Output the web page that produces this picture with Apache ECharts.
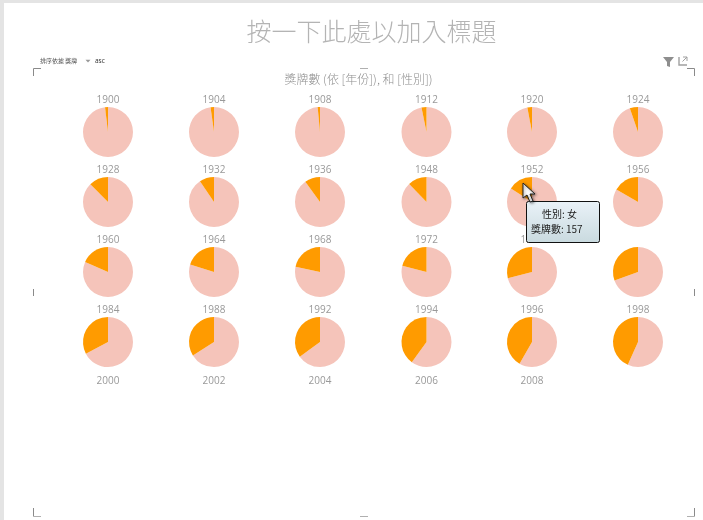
<!DOCTYPE html>
<html>
<head>
<meta charset="utf-8">
<style>html,body{margin:0;padding:0;background:#fff}#c{width:703px;height:520px}</style>
<script src="https://cdn.jsdelivr.net/npm/echarts@6/dist/echarts.min.js"></script>
</head>
<body>
<div id="c"></div>
<script>
var years = ['1900','1904','1908','1912','1920','1924','1928','1932','1936','1948','1952','1956','1960','1964','1968','1972','1976','1980','1984','1988','1992','1994','1996','1998'];
var extraYears = ['2000','2002','2004','2006','2008'];
var unlabelledYears = ['1980'];
var femaleShare = [1.9,2.2,1.5,3.2,3.0,5.3,12.5,9.5,10.0,12.2,16.0,16.6,18.4,20.2,21.7,21.0,29.0,30.5,32.7,34.0,35.0,40.0,41.7,43.3];
var maleShare = [98.1,97.8,98.5,96.8,97.0,94.7,87.5,90.5,90.0,87.8,84.0,83.4,81.6,79.8,78.3,79.0,71.0,69.5,67.3,66.0,65.0,60.0,58.3,56.7];
var genderNames = ['男','女'];
var colX = [108,214,320,426.5,532,638];
var rowY = [132,202,272,342];
var labelY = [99,169,239,309,380];

var chart = echarts.init(document.getElementById('c'), null, {renderer:'canvas'});
var FONT = '"Open Sans","Noto Sans CJK TC",sans-serif';
var CJK = '"Noto Sans CJK TC","Open Sans",sans-serif';

var titles = [
  {text:'按一下此處以加入標題', left:371.5, top:19, padding:0, textAlign:'center', textStyle:{fontFamily:CJK, fontSize:25, fontWeight:300, color:'#b4b4b4'}},
  {text:'獎牌數 (依 [年份]), 和 [性別])', left:358.5, top:73, padding:0, textAlign:'center', textStyle:{fontFamily:CJK, fontSize:12, fontWeight:300, color:'#8f8f8f'}}
];
function yearTitle(t, col, row){
  if (unlabelledYears.indexOf(t) >= 0) return;
  titles.push({text:t, left:colX[col], top:labelY[row]-4, padding:0, textAlign:'center',
    textStyle:{fontFamily:FONT, fontSize:10, fontWeight:'normal', color:'#999999'}});
}
years.forEach(function(y,i){ yearTitle(y, i%6, Math.floor(i/6)); });
extraYears.forEach(function(y,i){ yearTitle(y, i, 4); });

var series = years.map(function(y,i){
  return {
    type:'pie', name:y, radius:[0,25], center:[colX[i%6], rowY[Math.floor(i/6)]],
    startAngle:90, clockwise:true, silent:true, animation:false,
    label:{show:false}, labelLine:{show:false},
    data:[
      {name:genderNames[0], value:maleShare[i], itemStyle:{color:'#f5c4ba'}},
      {name:genderNames[1], value:femaleShare[i], itemStyle:{color:'#ff9b00'}}
    ]
  };
});

function seg(x1,y1,x2,y2,c){
  return {type:'line', shape:{x1:x1,y1:y1,x2:x2,y2:y2}, style:{stroke:c||'#8a8a8a', lineWidth:1}, z:50};
}
var g = [
  {type:'rect', shape:{x:0,y:0,width:4,height:520}, style:{fill:'#e4e4e4'}, z:40},
  {type:'rect', shape:{x:0,y:0,width:703,height:3}, style:{fill:'#e4e4e4'}, z:40},
  // selection frame
  seg(33.5,68.5,41,68.5), seg(33.5,68.5,33.5,76),
  seg(687,68.5,694.5,68.5), seg(694.5,68.5,694.5,76),
  seg(33.5,508,33.5,516.5), seg(33.5,516.5,41,516.5,'#b0b0b0'),
  seg(694.5,508,694.5,516.5), seg(687,516.5,694.5,516.5,'#b0b0b0'),
  seg(360,68.5,368,68.5,'#b0b0b0'), seg(360,516.5,368,516.5,'#b0b0b0'),
  seg(33.5,289,33.5,296), seg(694.5,289,694.5,296),
  // sort slicer
  {type:'text', style:{x:40,y:61,text:'排序依據 獎牌',font:'6px '+CJK,fill:'#555',textVerticalAlign:'middle'}, z:50},
  {type:'polygon', shape:{points:[[85.5,59.8],[90.5,59.8],[88,62.5]]}, style:{fill:'#999'}, z:50},
  {type:'text', style:{x:95,y:61,text:'asc',font:'6.5px '+FONT,fill:'#333',textVerticalAlign:'middle'}, z:50},
  // filter icon
  {type:'polygon', shape:{points:[[663,57],[674,57],[670,62],[670,67],[667,66],[667,62]]}, style:{fill:'#8e8e8e'}, z:50},
  // focus icon
  {type:'polyline', shape:{points:[[679,57],[679,65],[687,65]]}, style:{stroke:'#a0a0a0',fill:null,lineWidth:1.4}, z:50},
  {type:'polyline', shape:{points:[[682.5,61.5],[687,57]]}, style:{stroke:'#a0a0a0',fill:null,lineWidth:1}, z:50},
  {type:'polyline', shape:{points:[[683,57],[687,57],[687,61]]}, style:{stroke:'#a0a0a0',fill:null,lineWidth:1}, z:50},
  // tooltip
  {type:'rect', shape:{x:526.5,y:201.5,width:73,height:41,r:2},
    style:{fill:new echarts.graphic.LinearGradient(0,0,0,1,[{offset:0,color:'#eaf2f8'},{offset:1,color:'#c9dadf'}]),stroke:'#111',lineWidth:1}, z:60},
  {type:'text', style:{x:542,y:214,text:'性別: 女',font:'10px '+CJK,fill:'#222',textVerticalAlign:'middle'}, z:61},
  {type:'text', style:{x:531,y:229,text:'獎牌數: 157',font:'10px '+CJK,fill:'#222',textVerticalAlign:'middle'}, z:61},
  // cursor
  {type:'polygon', shape:{points:[[523,183],[523,198],[527,195],[530,202],[533,201],[530,194],[535,194]]},
    style:{fill:'#fff',stroke:'#222',lineWidth:1,shadowBlur:3,shadowColor:'rgba(0,0,0,0.5)',shadowOffsetX:1,shadowOffsetY:1}, z:70}
];

chart.setOption({
  backgroundColor:'#ffffff',
  animation:false,
  title:titles,
  tooltip:{show:false},
  series:series,
  graphic:{elements:g}
});
</script>
</body>
</html>
